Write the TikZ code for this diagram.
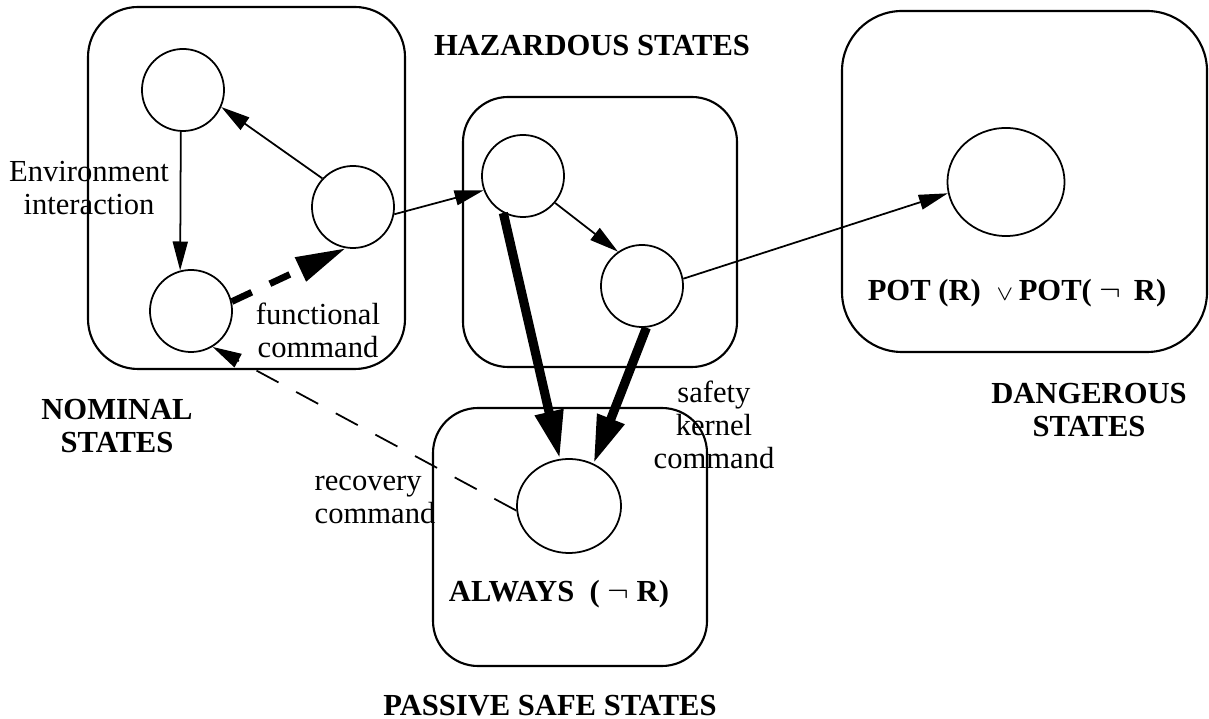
\documentclass[tikz,border=0pt]{standalone}
\usepackage{fontspec}
\setmainfont{Liberation Serif}
\usetikzlibrary{arrows.meta,shapes.geometric}
\tikzset{
  state/.style={draw, circle, line width=0.5pt, minimum size=0.82cm, inner sep=0pt},
  bigstate/.style={draw, ellipse, line width=0.5pt, inner sep=0pt},
  region/.style={line width=0.6pt, rounded corners=0.5cm},
  lbl/.style={inner sep=0pt, align=center},
  trans/.style={line width=0.5pt, -{Triangle[length=0.29cm,width=0.15cm]}},
  kernelcmd/.style={line width=2.6pt, -{Triangle[length=0.48cm,width=0.27cm]}},
  funccmd/.style={line width=1.9pt, dash pattern=on 0.22cm off 0.2cm, -{Triangle[length=0.5cm,width=0.25cm]}},
  recovcmd/.style={line width=0.5pt, dash pattern=on 0.25cm off 0.2cm, -{Triangle[length=0.29cm,width=0.15cm]}}
}
\begin{document}
\begin{tikzpicture}[x=0.01cm, y=-0.01cm, font=\fontsize{8.7}{9.4}\selectfont]
  \useasboundingbox (0,0) rectangle (1209,719);
  %%%%% REGIONS %%%%%
  \draw[region] (88,7) rectangle (405,369);
  \draw[region, rounded corners=0.45cm] (463,97) rectangle (737,367);
  \draw[region, rounded corners=0.6cm] (842,11) rectangle (1207,352);
  \draw[region, rounded corners=0.45cm] (433,408) rectangle (707,666);

  %%%%% STATES %%%%%
  \node[state] (nTop) at (183,90) {};
  \node[state] (nRight) at (353,207) {};
  \node[state] (nBot) at (191,311) {};
  \node[state] (hA) at (523,176) {};
  \node[state] (hB) at (642,286) {};
  \node[bigstate, minimum width=1.17cm, minimum height=1.08cm] (dS) at (1006,182) {};
  \node[bigstate, minimum width=1.04cm, minimum height=0.94cm] (pS) at (569,506) {};

  %%%%% LABELS %%%%%
  \node[lbl] (hazLbl) at (592,46) {\textbf{HAZARDOUS STATES}};
  \node[lbl] (nomLbl) at (117,426) {\textbf{NOMINAL}\\\textbf{STATES}};
  \node[lbl] (dangLbl) at (1089,410) {\textbf{DANGEROUS}\\\textbf{STATES}};
  \node[lbl] (passLbl) at (550,706) {\textbf{PASSIVE SAFE STATES}};
  \node[lbl] (potLbl) at (1017,293) {\textbf{POT (R) \ $\scriptstyle\vee$\,POT( $\neg$\, R)}};
  \node[lbl] (alwLbl) at (559,594) {\textbf{ALWAYS\ \ ( $\neg$ R)}};
  \node[lbl] (envLbl) at (89,188) {Environment\\interaction};
  \node[lbl] (funcLbl) at (318,330) {functional\\command};
  \node[lbl, anchor=west, align=left] (recLbl) at (314,500) {recovery\\command};
  \node[lbl] (safeLbl) at (714,425) {safety\\kernel\\command};

  %%%%% TRANSITIONS %%%%%
  \draw[trans] (nTop.-93) -- (nBot.105);
  \draw[trans] (nRight.137) -- (nTop.-24);
  \draw[funccmd] (nBot.13) -- (nRight.260);
  \draw[trans] (nRight.-10) -- (hA.200);
  \draw[trans] (hA.-40) -- (hB.125);
  \draw[trans] (hB.10) -- (dS.191);
  \draw[kernelcmd] (hA.242) -- (pS.101);
  \draw[kernelcmd] (hB.276) -- (pS.60);
  \draw[recovcmd] (pS.185) -- (nBot.-59);
\end{tikzpicture}
\end{document}
